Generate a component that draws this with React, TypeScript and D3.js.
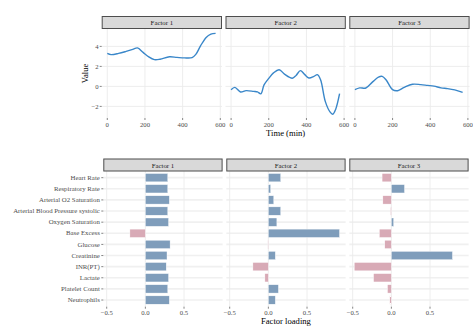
import React from "react";
import * as d3 from "d3";

// time series (time in min, value)
const factorNames = ["Factor 1", "Factor 2", "Factor 3"];
const ts1 = [[0, 3.3], [20, 3.18], [60, 3.3], [100, 3.5], [135, 3.7], [160, 3.85], [190, 3.4], [220, 2.95], [250, 2.68], [280, 2.72], [330, 2.96], [370, 2.9], [410, 2.85], [450, 2.88], [470, 3.2], [495, 4.05], [525, 4.9], [550, 5.22], [575, 5.3]];
const ts2 = [[0, -0.33], [20, -0.1], [50, -0.56], [80, -0.42], [120, -0.5], [140, -0.55], [158, -0.74], [175, 0.15], [200, 0.8], [225, 1.35], [255, 1.67], [285, 1.2], [325, 0.82], [345, 1.1], [368, 1.58], [390, 1.2], [413, 0.84], [440, 1.0], [458, 1.17], [475, 0.67], [500, -1.5], [525, -2.55], [540, -2.78], [555, -2.3], [576, -0.73]];
const ts3 = [[0, -0.33], [25, -0.15], [58, -0.16], [94, 0.45], [125, 0.92], [145, 1.0], [165, 0.67], [200, -0.33], [227, -0.43], [262, -0.09], [306, 0.22], [350, 0.18], [386, 0.1], [420, 0.03], [457, -0.15], [492, -0.22], [530, -0.35], [572, -0.6]];
const series = [ts1, ts2, ts3];
const timeTicks = [0, 200, 400, 600];
const valueTicks = [-2, 0, 2, 4];

// factor loadings
const variables = ["Heart Rate", "Respiratory Rate", "Arterial O2 Saturation", "Arterial Blood Pressure systolic", "Oxygen Saturation", "Base Excess", "Glucose", "Creatinine", "INR(PT)", "Lactate", "Platelet Count", "Neutrophils"];
const load1 = [0.29, 0.29, 0.31, 0.29, 0.3, -0.2, 0.32, 0.28, 0.27, 0.3, 0.29, 0.31];
const load2 = [0.16, 0.03, 0.07, 0.16, 0.11, 0.92, -0.006, 0.09, -0.2, -0.045, 0.13, 0.09];
const load3 = [-0.12, 0.17, -0.11, -0.01, 0.03, -0.155, -0.085, 0.79, -0.48, -0.23, -0.05, -0.02];
const loadings = [load1, load2, load3];
const loadTicks = [-0.5, 0, 0.5];

const W = 473;
const H = 330;
const FONT = "'Liberation Serif', 'DejaVu Serif', serif";
const GRID = "#ebebeb";
const TICK = "#333333";
const LABEL = "#4d4d4d";

const Strip = ({ x, y, w, label }: { x: number; y: number; w: number; label: string }) => (
  <g>
    <rect x={x + 0.5} y={y} width={w - 1} height={12} fill="#d9d9d9" stroke="#4d4d4d" strokeWidth={1} />
    <text x={x + w / 2} y={y + 8.6} textAnchor="middle" fontSize={6.8} fill="#1a1a1a">{label}</text>
  </g>
);

const App = () => {
  // top panels
  const topLeft = 101.7, topW = 120.3, topGap = 3.5;
  const topY0 = 29, topY1 = 118;
  const y = d3.scaleLinear().domain([-3.16, 5.74]).range([topY1, topY0]);
  const line = d3.line<number[]>().curve(d3.curveCatmullRom.alpha(0.5));

  // bottom panels
  const botLeft = 103.3, botW = 119.3, botGap = 3.7;
  const botY0 = 171, botY1 = 306.7;
  const yb = d3.scalePoint<string>().domain(variables).range([botY0, botY1]).padding(0.6);
  const step = yb.step();
  const barH = step * 0.75;

  return (
    <svg width={W} height={H} style={{ position: "absolute", left: 0, top: 0, fontFamily: FONT }}>
      <rect width={W} height={H} fill="#ffffff" />

      {series.map((s, i) => {
        const x0 = topLeft + i * (topW + topGap);
        const x = d3.scaleLinear().domain([-29.7, 609]).range([x0, x0 + topW]);
        const pts = s.map((d) => [x(d[0]), y(d[1])]);
        return (
          <g key={"t" + i}>
            {valueTicks.map((v) => (
              <line key={v} x1={x0} x2={x0 + topW} y1={y(v)} y2={y(v)} stroke={GRID} strokeWidth={0.9} />
            ))}
            {timeTicks.map((t) => (
              <line key={t} x1={x(t)} x2={x(t)} y1={topY0} y2={topY1} stroke={GRID} strokeWidth={0.9} />
            ))}
            <path d={line(pts as any) || ""} fill="none" stroke="#3a87c9" strokeWidth={1.4} />
            {timeTicks.map((t) => (
              <g key={"xt" + t}>
                <line x1={x(t)} x2={x(t)} y1={topY1} y2={topY1 + 2} stroke={TICK} strokeWidth={0.6} />
                <text x={x(t)} y={topY1 + 8.5} textAnchor="middle" fontSize={6.7} fill={LABEL}>{t}</text>
              </g>
            ))}
            <Strip x={x0} y={16.5} w={topW} label={factorNames[i]} />
          </g>
        );
      })}
      {valueTicks.map((v) => (
        <g key={"yt" + v}>
          <line x1={topLeft - 2} x2={topLeft} y1={y(v)} y2={y(v)} stroke={TICK} strokeWidth={0.6} />
          <text x={topLeft - 3} y={y(v) + 2.2} textAnchor="end" fontSize={6.7} fill={LABEL}>{v < 0 ? "\u2212" + Math.abs(v) : v}</text>
        </g>
      ))}
      <text transform={`translate(88,${(topY0 + topY1) / 2}) rotate(-90)`} textAnchor="middle" fontSize={8.6} fill="#000">Value</text>
      <text x={topLeft + (3 * topW + 2 * topGap) / 2} y={136} textAnchor="middle" fontSize={8.6} fill="#000">Time (min)</text>

      {loadings.map((vals, i) => {
        const x0 = botLeft + i * (botW + botGap);
        const x = d3.scaleLinear().domain([-0.544, 0.999]).range([x0, x0 + botW]);
        return (
          <g key={"b" + i}>
            {variables.map((v) => (
              <line key={v} x1={x0} x2={x0 + botW} y1={yb(v)!} y2={yb(v)!} stroke={GRID} strokeWidth={1.6} opacity={0.7} />
            ))}
            {loadTicks.map((t) => (
              <line key={t} x1={x(t)} x2={x(t)} y1={botY0} y2={botY1} stroke={GRID} strokeWidth={0.9} />
            ))}
            {vals.map((v, j) => (
              <rect
                key={j}
                x={x(Math.min(0, v))}
                y={yb(variables[j])! - barH / 2}
                width={Math.abs(x(v) - x(0))}
                height={barH}
                fill={v >= 0 ? "#7f9dbb" : "#d8aab6"}
                stroke="#ffffff"
                strokeWidth={0.4}
              />
            ))}
            {loadTicks.map((t) => (
              <g key={"xt" + t}>
                <line x1={x(t)} x2={x(t)} y1={botY1} y2={botY1 + 2} stroke={TICK} strokeWidth={0.6} />
                <text x={x(t)} y={botY1 + 8.5} textAnchor="middle" fontSize={6.7} fill={LABEL}>{t === 0 ? "0.0" : (t < 0 ? "\u2212" : "") + Math.abs(t).toFixed(1)}</text>
              </g>
            ))}
            <Strip x={x0} y={159} w={botW} label={factorNames[i]} />
          </g>
        );
      })}
      {variables.map((v) => (
        <g key={"yl" + v}>
          <line x1={botLeft - 2} x2={botLeft} y1={yb(v)!} y2={yb(v)!} stroke={TICK} strokeWidth={0.6} />
          <text x={botLeft - 3.5} y={yb(v)! + 2.2} textAnchor="end" fontSize={6.8} fill={LABEL}>{v}</text>
        </g>
      ))}
      <text x={botLeft + (3 * botW + 2 * botGap) / 2} y={324} textAnchor="middle" fontSize={8.6} fill="#000">Factor loading</text>
    </svg>
  );
};

export default App;
